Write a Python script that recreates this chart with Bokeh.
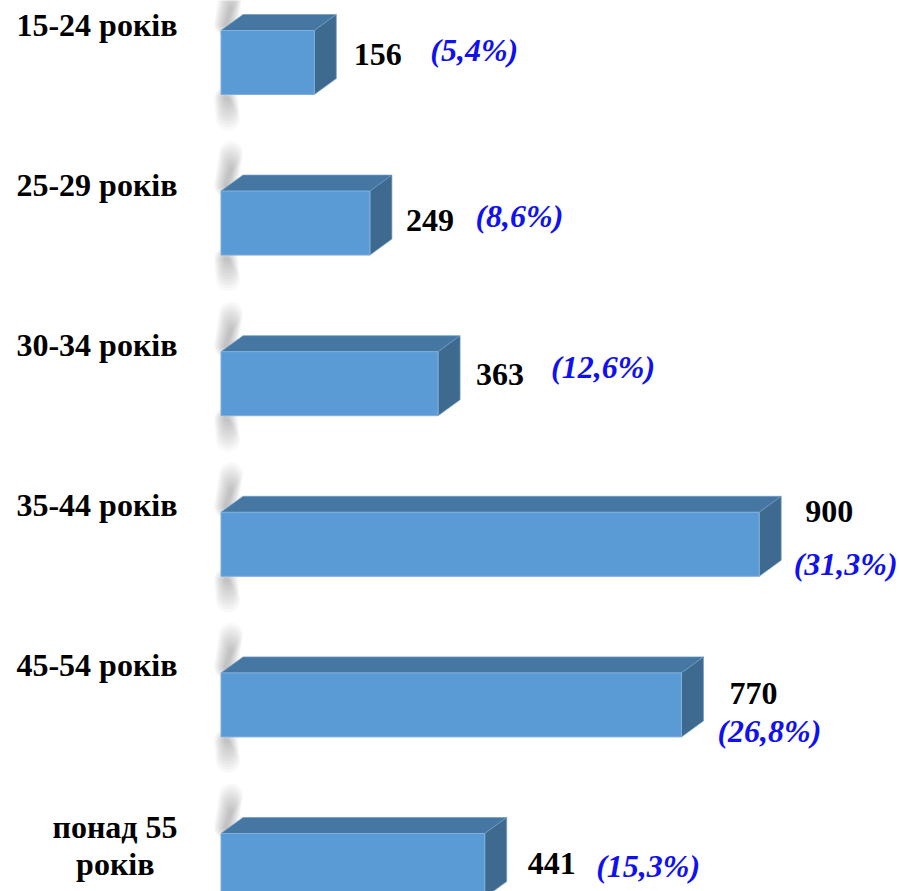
from bokeh.plotting import figure
from bokeh.models import Range1d
from bokeh.core.properties import value
from bokeh.embed import file_html
from bokeh.resources import INLINE

categories = ["15-24 років", "25-29 років", "30-34 років", "35-44 років", "45-54 років", "понад 55"]
values = [156, 249, 363, 900, 770, 441]
percents = ["(5,4%)", "(8,6%)", "(12,6%)", "(31,3%)", "(26,8%)", "(15,3%)"]

W, H = 899, 891
PX_X = 0.598      # pixels per unit
PX_Y = 160.6      # pixels per category
X0, Y0 = 220.5, 62  # origin in plot pixels
dx, dy = 22 / PX_X, 16 / PX_Y
half = 32 / PX_Y
ys = list(range(len(values)))

p = figure(width=W, height=H, output_backend="svg", toolbar_location=None,
           x_range=Range1d(-X0 / PX_X, (W - X0) / PX_X),
           y_range=Range1d((H - Y0) / PX_Y, -Y0 / PX_Y),
           min_border=0, outline_line_color=None)
p.axis.visible = False
p.grid.visible = False
p.background_fill_color = "white"
p.border_fill_color = "white"

# blurred shadow of the axis wall, built from stacked translucent strokes
for step in range(11):
    w = 24 - 2 * step
    xs_blob, ys_blob = [], []
    for i in ys:
        top = i - half
        bottom = i + half
        xs_blob += [[5 / PX_X, 10 / PX_X], [5 / PX_X, 7 / PX_X]]
        ys_blob += [[top - 6 / PX_Y, top - (38 - step * 1.6) / PX_Y],
                    [bottom + 4 / PX_Y, bottom + (24 - step * 2.0) / PX_Y]]
    p.multi_line(xs_blob, ys_blob, line_width=w, line_color="#606060", line_alpha=0.036, line_cap="round")

top_x = [[0, v, v + dx, dx] for v in values]
top_y = [[i - half, i - half, i - half - dy, i - half - dy] for i in ys]
side_x = [[v, v + dx, v + dx, v] for v in values]
side_y = [[i - half, i - half - dy, i + half - dy, i + half] for i in ys]
p.patches(top_x, top_y, fill_color="#4676A2", line_color="#6F9CC6", line_width=0.7)
p.patches(side_x, side_y, fill_color="#3E6A8F", line_color="#6F9CC6", line_width=0.7)
p.hbar(y=ys, left=0, right=values, height=2 * half, fill_color="#5B9BD5", line_color="#7FB0DE", line_width=1)

FONT = value("Liberation Serif")

cat_off = [-38, -38, -39, -39, -40, -39]
p.text(x=[0] * 6, y=ys, text=categories, x_offset=[-43.5] * 6, y_offset=cat_off,
       text_align="right", text_baseline="middle", text_font=FONT,
       text_font_style="bold", text_font_size="32px", text_color="black")
p.text(x=[0], y=[5], text=["років"], x_offset=[-66.5], y_offset=[-2],
       text_align="right", text_baseline="middle", text_font=FONT,
       text_font_style="bold", text_font_size="32px", text_color="black")

val_dx = [39.5, 36, 38, 46, 48, 43]
val_dy = [-8, -3, -9, -33, -11, -2]
p.text(x=values, y=ys, text=[str(v) for v in values], x_offset=val_dx, y_offset=val_dy,
       text_align="left", text_baseline="middle", text_font=FONT,
       text_font_style="bold", text_font_size="32px", text_color="black")

pct_dx = [116, 105.5, 113, 34.5, 36, 111.5]
pct_dy = [-12.5, -7, -17, 20, 26, 0]
p.text(x=values, y=ys, text=percents, x_offset=pct_dx, y_offset=pct_dy,
       text_align="left", text_baseline="middle", text_font=FONT,
       text_font_style="bold italic", text_font_size="32px", text_color="#1010F0")

open("out.html", "w").write(file_html(p, INLINE))
